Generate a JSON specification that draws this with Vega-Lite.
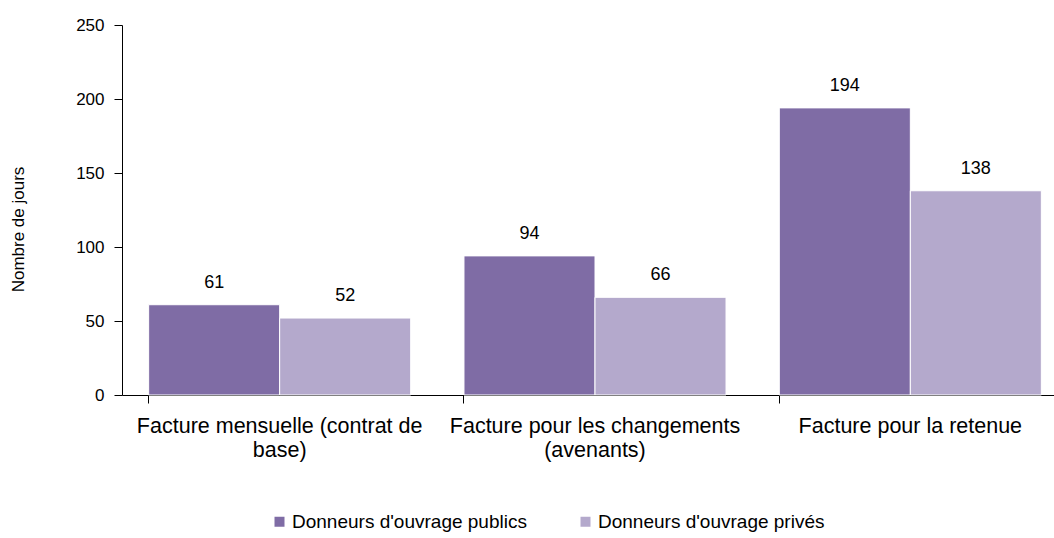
{
  "$schema": "https://vega.github.io/schema/vega-lite/v6.json",
  "width": 932,
  "height": 370,
  "padding": {"left": 122, "top": 25, "right": 0, "bottom": 143},
  "autosize": {"type": "none"},
  "background": "white",
  "config": {
    "view": {"stroke": null},
    "font": "Liberation Sans",
    "axis": {"labelFont": "Liberation Sans", "titleFont": "Liberation Sans", "labelColor": "#000", "titleColor": "#000"}
  },
  "data": {
    "values": [
      {"categorie": "Facture mensuelle (contrat de base)", "groupe": "Donneurs d'ouvrage publics", "jours": 61},
      {"categorie": "Facture mensuelle (contrat de base)", "groupe": "Donneurs d'ouvrage privés", "jours": 52},
      {"categorie": "Facture pour les changements (avenants)", "groupe": "Donneurs d'ouvrage publics", "jours": 94},
      {"categorie": "Facture pour les changements (avenants)", "groupe": "Donneurs d'ouvrage privés", "jours": 66},
      {"categorie": "Facture pour la retenue", "groupe": "Donneurs d'ouvrage publics", "jours": 194},
      {"categorie": "Facture pour la retenue", "groupe": "Donneurs d'ouvrage privés", "jours": 138}
    ]
  },
  "encoding": {
    "x": {
      "field": "categorie", "type": "nominal", "sort": null,
      "scale": {"range": [0, 946], "paddingInner": 0.169, "paddingOuter": 0.0845},
      "axis": {
        "title": null, "labelAngle": 0, "labelFontSize": 21.5, "labelPadding": 12,
        "domainColor": "#000", "tickColor": "#000", "tickSize": 8, "bandPosition": 0,
        "labelLineHeight": 24, "labelLimit": 400,
        "labelExpr": "datum.value == 'Facture mensuelle (contrat de base)' ? ['Facture mensuelle (contrat de', 'base)'] : datum.value == 'Facture pour les changements (avenants)' ? ['Facture pour les changements', '(avenants)'] : datum.value"
      }
    },
    "xOffset": {"field": "groupe", "type": "nominal", "sort": ["Donneurs d'ouvrage publics", "Donneurs d'ouvrage privés"]},
    "y": {
      "field": "jours", "type": "quantitative",
      "scale": {"domain": [0, 250]},
      "axis": {
        "title": "Nombre de jours", "titleFontSize": 17, "titleFontWeight": "normal",
        "titleX": -104, "titleY": 204, "titleBaseline": "middle", "titleAngle": -90, "titleAlign": "center",
        "labelFontSize": 17, "labelPadding": 10, "values": [0, 50, 100, 150, 200, 250],
        "grid": false, "domainColor": "#000", "tickColor": "#000", "tickSize": 8
      }
    }
  },
  "layer": [
    {
      "mark": {"type": "bar", "stroke": "white", "strokeWidth": 1},
      "encoding": {
        "color": {
          "field": "groupe", "type": "nominal",
          "sort": ["Donneurs d'ouvrage publics", "Donneurs d'ouvrage privés"],
          "scale": {"domain": ["Donneurs d'ouvrage publics", "Donneurs d'ouvrage privés"], "range": ["#7f6ca5", "#b4a9cc"]},
          "legend": {
            "title": null, "orient": "none", "legendX": 148, "legendY": 487, "direction": "horizontal", "symbolType": "square",
            "symbolSize": 100, "symbolStrokeWidth": 0, "labelFontSize": 19, "labelFont": "Liberation Sans",
            "labelColor": "#000", "columnPadding": 49, "labelLimit": 400, "labelOffset": 3
          }
        }
      }
    },
    {
      "mark": {"type": "text", "baseline": "alphabetic", "dy": -17, "fontSize": 18, "color": "#000"},
      "encoding": {"text": {"field": "jours", "type": "quantitative"}}
    }
  ]
}
